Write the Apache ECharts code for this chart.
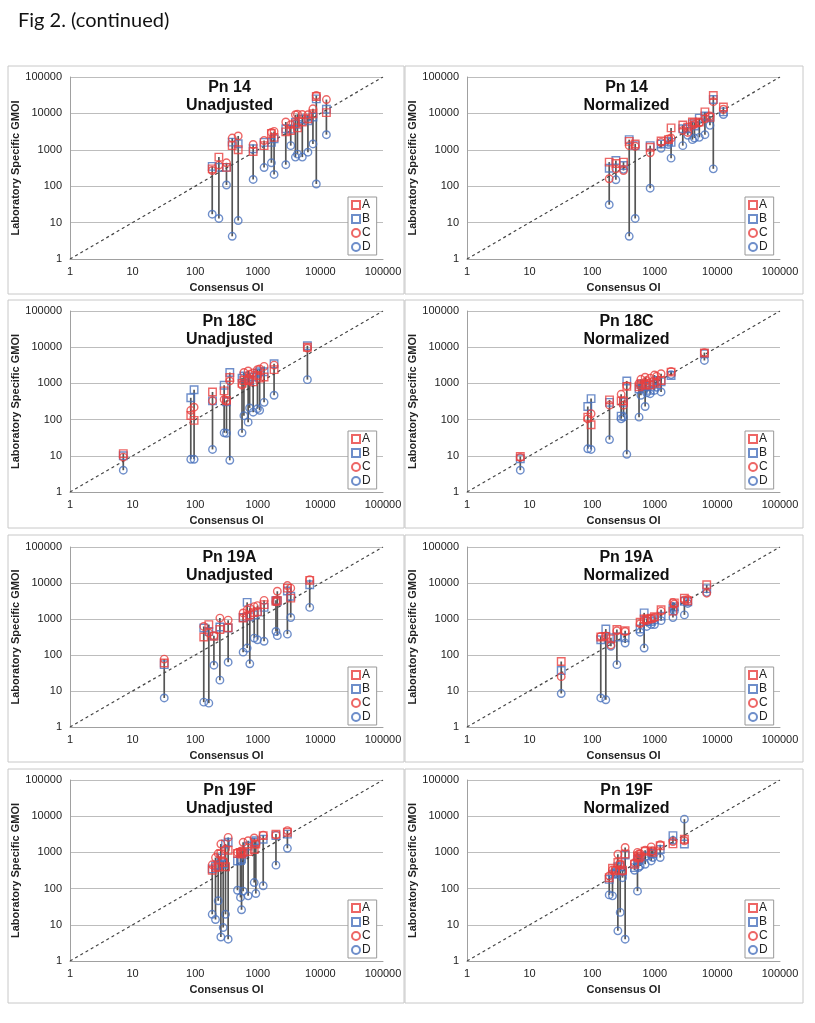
<!DOCTYPE html>
<html>
<head>
<meta charset="utf-8">
<script src="https://cdn.jsdelivr.net/npm/echarts@6/dist/echarts.min.js"></script>
<style>html,body{margin:0;padding:0;background:#fff}#c{width:815px;height:1023px}</style>
</head>
<body>
<div id="c"></div>
<script>
// ---------- DATA ----------
const figTitle = 'Fig 2. (continued)';
const axisTicks = [1, 10, 100, 1000, 10000, 100000];
const seriesNames = ['A', 'B', 'C', 'D'];

// Consensus OI (x) per serotype
const pn14_oi  = [187, 239, 316, 390, 486, 843, 1260, 1650, 1820, 2800, 3360, 3990, 4300, 5140, 6320, 7600, 8600, 12470];
const pn18c_oi = [7.1, 85, 96, 189, 290, 316, 357, 560, 600, 701, 740, 843, 988, 1070, 1260, 1820, 6200];
const pn19a_oi = [32, 137, 165, 199, 248, 336, 583, 676, 745, 876, 988, 1260, 1950, 2050, 2970, 3360, 6750];
const pn19f_oi = [187, 211, 233, 257, 280, 305, 336, 474, 529, 550, 583, 701, 876, 930, 1220, 1950, 2970];

// Pn 14 Unadjusted
const pn14U_A = [300, 630, 330, 1300, 1000, 900, 1300, 2800, 2200, 3100, 3400, 5200, 4000, 5800, 7100, 9800, 29000, 10500];
const pn14U_B = [350, 330, 330, 1620, 1460, 1070, 1600, 1600, 2000, 3800, 3700, 5700, 5000, 7000, 6300, 8000, 25000, 13000];
const pn14U_C = [270, 380, 440, 2100, 2400, 1400, 1800, 3000, 3200, 5800, 4900, 9200, 9500, 9300, 9200, 13400, 31000, 24000];
const pn14U_D = [17, 13, 108, 4.2, 11.4, 153, 325, 440, 210, 390, 1300, 630, 760, 630, 860, 1450, 115, 2600];
// Pn 14 Normalized
const pn14N_A = [460, 420, 460, 1700, 1450, 1180, 1750, 1900, 4000, 4800, 4200, 5800, 5500, 5800, 11000, 7800, 31000, 15000];
const pn14N_B = [310, 510, 370, 1900, 1300, 1300, 1450, 1700, 1600, 3800, 3800, 5200, 4500, 7400, 8500, 8000, 24000, 11000];
const pn14N_C = [160, 300, 270, 1300, 1250, 830, 1600, 2000, 2100, 3400, 3000, 4700, 5000, 5500, 7100, 8500, 21000, 13000];
const pn14N_D = [31, 150, 290, 4.2, 13, 88, 1100, 1400, 590, 1300, 2500, 1900, 2100, 2200, 2600, 4700, 300, 9300];

// Pn 18C Unadjusted
const pn18cU_A = [11.5, 130, 95, 580, 620, 340, 1450, 1000, 1200, 1200, 1300, 1100, 1650, 1400, 1500, 2400, 10000];
const pn18cU_B = [10, 400, 670, 330, 890, 310, 2000, 1400, 1600, 1300, 1200, 1500, 1900, 2100, 2100, 3500, 11000];
const pn18cU_C = [9.2, 180, 220, 330, 360, 320, 1170, 900, 2000, 2200, 1800, 1950, 2400, 2500, 2950, 3200, 9500];
const pn18cU_D = [4, 8, 8, 15, 43, 42, 7.5, 43, 128, 85, 210, 160, 200, 180, 300, 470, 1270];
// Pn 18C Normalized
const pn18cN_A = [9.6, 117, 72, 350, 330, 330, 830, 800, 900, 900, 1000, 900, 1100, 1000, 1200, 2050, 6900];
const pn18cN_B = [8.3, 230, 380, 300, 125, 300, 1170, 700, 950, 800, 850, 640, 950, 1200, 1100, 1650, 6600];
const pn18cN_C = [9, 105, 145, 250, 500, 250, 850, 1000, 1300, 1480, 1200, 1400, 1700, 1570, 1850, 2150, 7100];
const pn18cN_D = [4, 15.6, 15, 28, 105, 117, 11, 117, 470, 230, 550, 520, 640, 780, 580, 1750, 4300];

// Pn 19A Unadjusted
const pn19aU_A = [60, 316, 700, 330, 510, 570, 1070, 1200, 1300, 1500, 1600, 2500, 3100, 3300, 7200, 3800, 11800];
const pn19aU_B = [54, 560, 450, 340, 600, 560, 1100, 2900, 1150, 1300, 1550, 2100, 3300, 3100, 6000, 4300, 8900];
const pn19aU_C = [77, 620, 410, 345, 1060, 930, 1470, 1800, 2000, 2200, 2350, 3300, 3000, 5900, 8500, 7200, 12400];
const pn19aU_D = [6.4, 4.9, 4.6, 52, 20, 63, 120, 156, 57, 295, 265, 240, 450, 345, 380, 1100, 2100];
// Pn 19A Normalized
const pn19aN_A = [66, 316, 330, 280, 510, 470, 810, 1000, 1000, 1050, 1150, 1800, 1650, 2800, 3800, 3200, 8900];
const pn19aN_B = [37, 265, 525, 300, 316, 300, 525, 1480, 850, 850, 950, 1200, 2000, 2200, 3100, 3000, 7000];
const pn19aN_C = [25, 330, 340, 190, 470, 450, 740, 920, 900, 1000, 1100, 1650, 2900, 2600, 3400, 3500, 5200];
const pn19aN_D = [8.5, 6.4, 5.7, 175, 54, 215, 430, 156, 620, 700, 700, 900, 1100, 1650, 1300, 2700, 5500];

// Pn 19F Unadjusted
const pn19fU_A = [320, 380, 400, 900, 525, 400, 1150, 930, 1000, 900, 1000, 1060, 1200, 1700, 2900, 3200, 3600];
const pn19fU_B = [350, 420, 450, 700, 480, 1700, 1900, 580, 600, 650, 950, 1500, 1900, 2100, 2300, 2900, 3200];
const pn19fU_C = [455, 720, 930, 1700, 590, 1230, 2600, 1000, 1060, 1100, 1900, 2100, 2500, 1700, 3000, 3000, 4000];
const pn19fU_D = [19.5, 14, 46, 4.6, 8.4, 19.5, 4, 90, 57, 26, 85, 63, 147, 73, 120, 445, 1300];
// Pn 19F Normalized
const pn19fN_A = [200, 365, 310, 525, 450, 320, 900, 470, 800, 700, 750, 1080, 1100, 1000, 1530, 1720, 2300];
const pn19fN_B = [180, 250, 260, 400, 400, 290, 850, 380, 650, 600, 650, 800, 950, 900, 1200, 2900, 1700];
const pn19fN_C = [225, 330, 320, 890, 470, 300, 1370, 520, 1000, 900, 920, 1150, 1420, 1100, 1630, 2000, 2100];
const pn19fN_D = [67, 63, 280, 6.8, 22, 200, 4, 320, 85, 380, 420, 470, 580, 720, 720, 2150, 8300];

const panels = [
  {t1: 'Pn 14',  t2: 'Unadjusted', x: pn14_oi,  v: [pn14U_A, pn14U_B, pn14U_C, pn14U_D]},
  {t1: 'Pn 14',  t2: 'Normalized', x: pn14_oi,  v: [pn14N_A, pn14N_B, pn14N_C, pn14N_D]},
  {t1: 'Pn 18C', t2: 'Unadjusted', x: pn18c_oi, v: [pn18cU_A, pn18cU_B, pn18cU_C, pn18cU_D]},
  {t1: 'Pn 18C', t2: 'Normalized', x: pn18c_oi, v: [pn18cN_A, pn18cN_B, pn18cN_C, pn18cN_D]},
  {t1: 'Pn 19A', t2: 'Unadjusted', x: pn19a_oi, v: [pn19aU_A, pn19aU_B, pn19aU_C, pn19aU_D]},
  {t1: 'Pn 19A', t2: 'Normalized', x: pn19a_oi, v: [pn19aN_A, pn19aN_B, pn19aN_C, pn19aN_D]},
  {t1: 'Pn 19F', t2: 'Unadjusted', x: pn19f_oi, v: [pn19fU_A, pn19fU_B, pn19fU_C, pn19fU_D]},
  {t1: 'Pn 19F', t2: 'Normalized', x: pn19f_oi, v: [pn19fN_A, pn19fN_B, pn19fN_C, pn19fN_D]}
];

// ---------- LAYOUT / STYLE ----------
const RED = '#e8403e', BLUE = '#4a72bd';
const markStyle = [
  {symbol: 'rect',   color: RED},
  {symbol: 'rect',   color: BLUE},
  {symbol: 'circle', color: RED},
  {symbol: 'circle', color: BLUE}
];
const colLeft = [70, 467];
const plotW = 313;
const rowTop = [77, 311, 547, 780];
const rowH = [182, 181, 180, 181];
const frameCol = [[8, 396], [405, 398]];
const frameRow = [[66, 228], [300, 228], [535, 227], [769, 234]];
const FONT = 'Liberation Sans, Arial, sans-serif';

const option = {
  animation: false,
  backgroundColor: '#fff',
  title: [], grid: [], xAxis: [], yAxis: [], legend: [], series: [],
  graphic: [{
    type: 'text', left: 18, top: 11,
    style: {text: figTitle, font: '20px Lato, "Open Sans", sans-serif', fill: '#111'}
  }]
};

panels.forEach((p, i) => {
  const r = Math.floor(i / 2), c = i % 2;
  const left = colLeft[c], top = rowTop[r], h = rowH[r];
  option.graphic.push({
    type: 'rect', z: -1,
    shape: {x: frameCol[c][0], y: frameRow[r][0], width: frameCol[c][1], height: frameRow[r][1]},
    style: {fill: 'none', stroke: '#c8c8c8', lineWidth: 1}
  });
  option.grid.push({left: left, top: top, width: plotW, height: h, containLabel: false});
  option.title.push({
    text: p.t1 + '\n' + p.t2, left: left + plotW / 2 - 2, top: top - 3, textAlign: 'center',
    textStyle: {fontFamily: FONT, fontWeight: 'bold', fontSize: 16, lineHeight: 18, color: '#111'}
  });
  option.xAxis.push({
    type: 'log', logBase: 10, min: axisTicks[0], max: axisTicks[axisTicks.length - 1], gridIndex: i,
    name: 'Consensus OI', nameLocation: 'middle', nameGap: 23,
    nameTextStyle: {fontFamily: FONT, fontWeight: 'bold', fontSize: 11, color: '#222'},
    axisLine: {lineStyle: {color: '#a0a0a0'}}, axisTick: {show: false},
    splitLine: {show: false},
    axisLabel: {fontFamily: FONT, fontSize: 11, color: '#222', margin: 7, formatter: v => String(Math.round(v))}
  });
  option.yAxis.push({
    type: 'log', logBase: 10, min: axisTicks[0], max: axisTicks[axisTicks.length - 1], gridIndex: i,
    name: 'Laboratory Specific GMOI', nameLocation: 'middle', nameGap: 46,
    nameTextStyle: {fontFamily: FONT, fontWeight: 'bold', fontSize: 11, color: '#222'},
    axisLine: {show: true, lineStyle: {color: '#a0a0a0'}}, axisTick: {show: false},
    splitLine: {show: true, lineStyle: {color: '#bdbdbd', width: 1}},
    axisLabel: {fontFamily: FONT, fontSize: 11, color: '#222', margin: 8, formatter: v => String(Math.round(v))}
  });
  option.legend.push({
    orient: 'vertical', left: left + 278, top: top + 120,
    data: seriesNames, selectedMode: false,
    itemWidth: 8, itemHeight: 8, itemGap: 2,
    padding: [2, 6, 2, 3], borderColor: '#999', borderWidth: 1, backgroundColor: '#fff',
    textStyle: {fontFamily: FONT, fontSize: 12, color: '#222', padding: [0, 0, 0, -3]}
  });
  // vertical range lines per consensus value
  const ranges = p.x.map((xv, k) => {
    const vals = p.v.map(arr => arr[k]);
    return [xv, Math.min(...vals), Math.max(...vals)];
  });
  option.series.push({
    type: 'custom', coordinateSystem: 'cartesian2d', xAxisIndex: i, yAxisIndex: i, z: 2,
    silent: true, data: ranges, encode: {x: 0, y: [1, 2]},
    renderItem: (params, api) => {
      const a = api.coord([api.value(0), api.value(1)]);
      const b = api.coord([api.value(0), api.value(2)]);
      return {type: 'line', shape: {x1: a[0], y1: a[1], x2: b[0], y2: b[1]},
              style: {stroke: '#555', lineWidth: 1.7}};
    }
  });
  // identity line
  option.series.push({
    type: 'line', xAxisIndex: i, yAxisIndex: i, z: 3, silent: true, symbol: 'none',
    data: [[axisTicks[0], axisTicks[0]], [axisTicks[axisTicks.length - 1], axisTicks[axisTicks.length - 1]]],
    lineStyle: {color: '#444', width: 1.2, type: [3, 3]}
  });
  // markers: draw D, B, C, A so red on top
  [3, 1, 2, 0].forEach(s => {
    option.series.push({
      name: seriesNames[s], type: 'scatter', xAxisIndex: i, yAxisIndex: i, z: 4,
      symbol: markStyle[s].symbol, symbolSize: 7.5,
      itemStyle: {color: 'rgba(255,255,255,0)', borderColor: markStyle[s].color, borderWidth: 1.4},
      data: p.x.map((xv, k) => [xv, p.v[s][k]])
    });
  });
});

const chart = echarts.init(document.getElementById('c'), null, {renderer: 'canvas'});
chart.setOption(option);
</script>
</body>
</html>
